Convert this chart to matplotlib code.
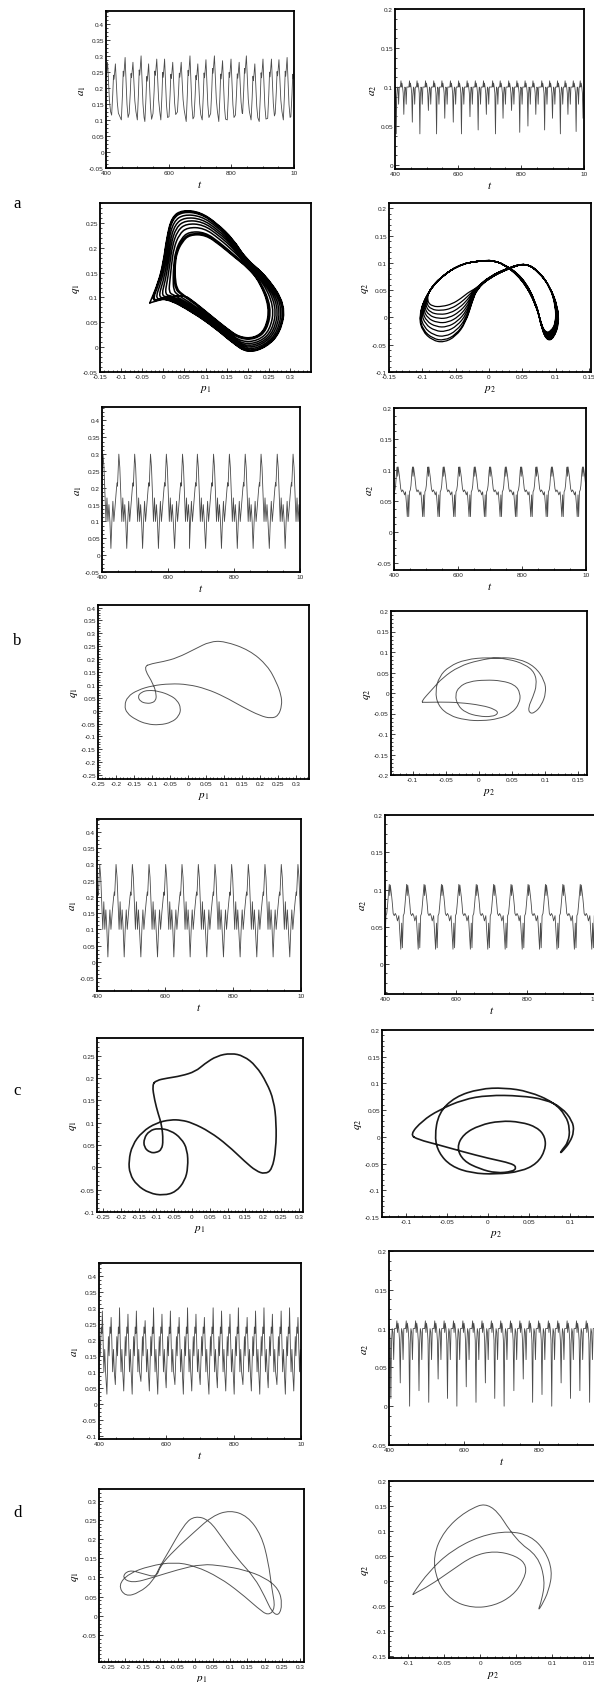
import numpy as np
import matplotlib
matplotlib.use('Agg')
import matplotlib.pyplot as plt
from matplotlib.ticker import AutoMinorLocator, FixedLocator, FuncFormatter
from matplotlib.path import Path
from matplotlib.patches import PathPatch

plt.rcParams['axes.unicode_minus'] = False
plt.rcParams['mathtext.fontset'] = 'stix'
plt.rcParams['font.family'] = ['Liberation Sans', 'DejaVu Sans']

W, H = 594, 1683
fig = plt.figure(figsize=(W / 100, H / 100), dpi=100)

# ---------------- data ----------------
# Row a (chaotic)
A1_PEAK_T = [405, 430, 461, 486, 512, 536, 562, 587, 613, 640, 668, 693, 719, 746, 772, 799, 825, 848, 875, 901, 928, 952, 978, 1002]
A1_PEAK = [0.28, 0.275, 0.295, 0.28, 0.30, 0.275, 0.29, 0.29, 0.28, 0.28, 0.30, 0.275, 0.288, 0.30, 0.285, 0.29, 0.28, 0.30, 0.275, 0.29, 0.29, 0.288, 0.295, 0.28]
A1_TROUGH = [0.12, 0.115, 0.10, 0.12, 0.10, 0.095, 0.12, 0.10, 0.11, 0.125, 0.095, 0.11, 0.10, 0.12, 0.095, 0.10, 0.115, 0.12, 0.10, 0.095, 0.105, 0.12, 0.10, 0.11]
A1_SHAPE_DT = [-12, -8.5, -6, -4.5, -2.5, 0, 2.5, 6, 9.5]
A1_SHAPE_F = [0.0, 0.4, 0.78, 0.7, 0.82, 1.0, 0.7, 0.25, 0.04]

A2_SPIKE_T = [404, 428, 455, 479, 506, 532, 558, 585, 611, 638, 664, 690, 719, 743, 770, 796, 822, 847, 875, 900, 925, 949, 975, 997]
A2_SPIKE = [0.04, 0.065, 0.055, 0.04, 0.07, 0.04, 0.06, 0.055, 0.04, 0.062, 0.045, 0.065, 0.04, 0.06, 0.07, 0.042, 0.05, 0.065, 0.045, 0.06, 0.04, 0.065, 0.043, 0.06]
A2_SHAPE_DT = [-11, -9, -7.5, -6, -4, -2, 0, 1.5, 3.5, 5.5, 7.5, 9.5]
A2_SHAPE_V = [0.1, 0.108, 0.1, 0.105, 0.1, 0.092, None, 0.088, 0.1, 0.098, 0.078, 0.1]

A_PH1_OUTER_P = [-0.032, -0.012, 0.0, 0.008, 0.02, 0.045, 0.087, 0.126, 0.166, 0.195, 0.245, 0.29, 0.278, 0.245, 0.2, 0.165, 0.125, 0.07, 0.005]
A_PH1_OUTER_Q = [0.089, 0.13, 0.17, 0.22, 0.262, 0.276, 0.272, 0.25, 0.217, 0.178, 0.143, 0.085, 0.03, 0.0, -0.012, 0.008, 0.037, 0.07, 0.1]
A_PH1_INNER_P = [0.032, 0.028, 0.028, 0.032, 0.045, 0.062, 0.1, 0.135, 0.17, 0.2, 0.228, 0.252, 0.242, 0.215, 0.18, 0.15, 0.115, 0.075, 0.045]
A_PH1_INNER_Q = [0.118, 0.14, 0.165, 0.19, 0.212, 0.226, 0.226, 0.205, 0.18, 0.16, 0.132, 0.08, 0.035, 0.018, 0.02, 0.038, 0.062, 0.09, 0.108]
A_PH1_MIX = [0.0, 0.03, 0.07, 0.18, 0.3, 0.42, 0.55, 0.7, 0.88, 0.95, 1.0]

A_PH2_OUTER_P = [0.0, -0.04, -0.075, -0.097, -0.105, -0.1, -0.085, -0.068, -0.05, -0.035, -0.025, -0.018, 0.0, 0.03, 0.055, 0.075, 0.092, 0.103, 0.105, 0.097, 0.088, 0.08, 0.072, 0.05, 0.02]
A_PH2_OUTER_Q = [0.105, 0.1, 0.072, 0.035, 0.0, -0.025, -0.042, -0.046, -0.035, -0.01, 0.03, 0.052, 0.072, 0.09, 0.1, 0.083, 0.055, 0.02, -0.012, -0.038, -0.043, -0.025, 0.02, 0.07, 0.1]
A_PH2_INNER_P = [0.0, -0.04, -0.072, -0.09, -0.093, -0.085, -0.07, -0.055, -0.042, -0.032, -0.025, -0.018, 0.0, 0.03, 0.055, 0.075, 0.092, 0.1, 0.1, 0.093, 0.085, 0.078, 0.07, 0.05, 0.02]
A_PH2_INNER_Q = [0.105, 0.1, 0.075, 0.05, 0.03, 0.02, 0.02, 0.025, 0.035, 0.045, 0.05, 0.055, 0.075, 0.092, 0.1, 0.085, 0.055, 0.02, -0.01, -0.025, -0.028, -0.012, 0.03, 0.075, 0.1]
A_PH2_MIX = [0.0, 0.05, 0.15, 0.28, 0.4, 0.52, 0.64, 0.76, 0.88, 1.0]

# Row b (periodic)
B1_PEAK_T = [403, 451, 499, 547, 595, 644, 689, 738, 786, 834, 882, 931, 979, 1027]
B1_SHAPE_DT = [-24, -21, -18, -15, -11, -7, -5, -4, -2, 0, 3, 6, 9, 12, 15, 18, 21]
B1_SHAPE_V = [0.02, 0.10, 0.16, 0.10, 0.15, 0.20, 0.215, 0.205, 0.25, 0.30, 0.26, 0.18, 0.10, 0.17, 0.10, 0.15, 0.10]

B2_PEAK_T = [412, 460, 508, 556, 605, 653, 701, 750, 798, 846, 894, 943, 991, 1039]
B2_SHAPE_DT = [-24, -21, -18.5, -16, -14, -11.5, -9, -7, -5, -3.5, -2, -0.5, 1, 3, 5, 7, 9, 12, 15, 18, 21]
B2_SHAPE_V = [0.065, 0.045, 0.025, 0.06, 0.025, 0.065, 0.068, 0.075, 0.088, 0.1, 0.105, 0.09, 0.105, 0.098, 0.09, 0.08, 0.07, 0.065, 0.068, 0.065, 0.06]

B_PH1_P = [-0.125, -0.095, -0.088, -0.09, -0.1, -0.115, -0.132, -0.14, -0.13, -0.11, -0.08, -0.05, -0.03, -0.02, -0.025, -0.045, -0.08, -0.115, -0.145, -0.17, -0.177, -0.168, -0.14, -0.1, -0.05, 0.0, 0.05, 0.1, 0.15, 0.2, 0.23, 0.25, 0.26, 0.258, 0.245, 0.22, 0.17, 0.1, 0.06, 0.02, -0.03, -0.07, -0.1, -0.125]
B_PH1_Q = [0.17, 0.1, 0.06, 0.04, 0.03, 0.028, 0.035, 0.055, 0.072, 0.08, 0.075, 0.06, 0.04, 0.01, -0.02, -0.045, -0.056, -0.052, -0.035, -0.01, 0.02, 0.055, 0.08, 0.097, 0.105, 0.102, 0.085, 0.055, 0.015, -0.02, -0.03, -0.02, 0.02, 0.06, 0.11, 0.175, 0.235, 0.27, 0.268, 0.24, 0.205, 0.19, 0.183, 0.17]

B_PH2_P = [-0.088, -0.07, -0.055, -0.03, 0.0, 0.03, 0.06, 0.085, 0.1, 0.102, 0.095, 0.085, 0.077, 0.075, 0.082, 0.088, 0.085, 0.07, 0.045, 0.015, -0.02, -0.045, -0.06, -0.066, -0.062, -0.045, -0.02, 0.005, 0.03, 0.05, 0.062, 0.063, 0.055, 0.035, 0.01, -0.015, -0.03, -0.036, -0.032, -0.02, 0.0, 0.02, 0.03, 0.025, 0.005, -0.03, -0.06, -0.082, -0.088]
B_PH2_Q = [-0.022, 0.01, 0.037, 0.065, 0.08, 0.087, 0.084, 0.065, 0.03, 0.0, -0.03, -0.048, -0.05, -0.035, -0.01, 0.02, 0.05, 0.07, 0.083, 0.087, 0.082, 0.065, 0.04, 0.005, -0.03, -0.055, -0.066, -0.068, -0.063, -0.05, -0.025, 0.0, 0.02, 0.03, 0.032, 0.028, 0.015, -0.005, -0.03, -0.048, -0.057, -0.058, -0.05, -0.04, -0.03, -0.023, -0.022, -0.023, -0.022]

# Row c (periodic, slightly thickened orbit)
C1_PEAK_T = [408, 456, 504, 553, 602, 650, 698, 747, 796, 845, 894, 942, 991, 1040]
C1_SHAPE_DT = [-24, -21, -18, -15, -11, -7, -5, -4, -2, 0, 3, 6, 9, 12, 15, 18, 21]
C1_SHAPE_V = [0.015, 0.10, 0.16, 0.10, 0.155, 0.20, 0.215, 0.205, 0.25, 0.30, 0.26, 0.18, 0.10, 0.185, 0.10, 0.16, 0.10]

C2_PEAK_T = [414, 463, 512, 561, 610, 659, 708, 757, 805, 854, 903, 952, 1001, 1050]
C2_SHAPE_DT = [-24, -21, -18.5, -16, -14, -11.5, -9, -7, -5, -3.5, -2, -0.5, 1, 3, 5, 7, 9, 12, 15, 18, 21]
C2_SHAPE_V = [0.065, 0.04, 0.02, 0.055, 0.022, 0.065, 0.068, 0.078, 0.09, 0.1, 0.107, 0.092, 0.106, 0.098, 0.09, 0.08, 0.068, 0.065, 0.068, 0.065, 0.058]

C_PH1_P = [-0.112, -0.105, -0.095, -0.085, -0.081, -0.085, -0.1, -0.118, -0.135, -0.135, -0.12, -0.095, -0.06, -0.03, -0.013, -0.011, -0.02, -0.045, -0.08, -0.12, -0.155, -0.175, -0.178, -0.168, -0.14, -0.1, -0.06, -0.03, 0.0, 0.05, 0.1, 0.15, 0.18, 0.205, 0.225, 0.236, 0.237, 0.23, 0.21, 0.18, 0.145, 0.11, 0.07, 0.035, 0.01, -0.03, -0.07, -0.1, -0.112]
C_PH1_Q = [0.185, 0.15, 0.12, 0.095, 0.06, 0.04, 0.033, 0.033, 0.045, 0.065, 0.082, 0.088, 0.083, 0.065, 0.04, 0.0, -0.03, -0.055, -0.063, -0.058, -0.04, -0.015, 0.015, 0.05, 0.08, 0.1, 0.107, 0.106, 0.1, 0.08, 0.05, 0.012, -0.008, -0.015, -0.005, 0.04, 0.1, 0.15, 0.19, 0.228, 0.25, 0.256, 0.25, 0.232, 0.215, 0.205, 0.2, 0.195, 0.185]

C_PH2_P = [-0.095, -0.08, -0.06, -0.03, 0.0, 0.04, 0.07, 0.09, 0.103, 0.105, 0.1, 0.092, 0.088, 0.09, 0.098, 0.1, 0.095, 0.08, 0.05, 0.02, -0.01, -0.04, -0.06, -0.065, -0.06, -0.045, -0.02, 0.01, 0.04, 0.06, 0.07, 0.07, 0.06, 0.04, 0.015, -0.01, -0.03, -0.038, -0.03, -0.01, 0.01, 0.03, 0.035, 0.03, 0.0, -0.03, -0.06, -0.085, -0.095]
C_PH2_Q = [0.004, 0.03, 0.05, 0.07, 0.078, 0.077, 0.07, 0.055, 0.03, 0.01, -0.01, -0.025, -0.031, -0.025, -0.01, 0.015, 0.04, 0.065, 0.085, 0.092, 0.09, 0.075, 0.045, 0.0, -0.03, -0.055, -0.068, -0.07, -0.065, -0.05, -0.025, 0.0, 0.018, 0.028, 0.03, 0.022, 0.005, -0.02, -0.045, -0.06, -0.068, -0.065, -0.058, -0.05, -0.04, -0.028, -0.015, -0.005, 0.004]

# Row d (quasi-periodic)
D1_PEAK_T = [410, 436, 461, 486, 511, 537, 562, 587, 612, 638, 663, 688, 713, 739, 764, 789, 814, 840, 865, 890, 915, 941, 966, 991, 1016]
D1_PEAK = [0.29, 0.27, 0.30, 0.28, 0.29, 0.26, 0.30, 0.28, 0.29, 0.27, 0.30, 0.28, 0.27, 0.30, 0.29, 0.28, 0.30, 0.27, 0.29, 0.30, 0.28, 0.29, 0.30, 0.27, 0.28]
D1_LOW = [0.05, 0.03, 0.06, 0.04, 0.03, 0.07, 0.04, 0.03, 0.05, 0.06, 0.03, 0.04, 0.06, 0.03, 0.05, 0.04, 0.03, 0.06, 0.04, 0.03, 0.05, 0.06, 0.03, 0.04, 0.05]
D1_SHAPE_DT = [-12.5, -10, -8, -6, -3.5, -1.5, 0, 2, 4.5, 7, 9.5]
D1_SHAPE_V = ['L', 0.14, 0.21, 0.15, 0.24, 0.22, 'P', 0.2, 0.1, 0.17, 0.1]

D2_SPIKE_T = [405, 430, 455, 480, 506, 531, 556, 581, 606, 632, 657, 682, 707, 733, 758, 783, 808, 834, 859, 884, 909, 935, 960, 985, 1010]
D2_SPIKE = [0.01, 0.03, 0.0, 0.02, 0.005, 0.035, 0.01, 0.0, 0.025, 0.005, 0.03, 0.01, 0.0, 0.02, 0.035, 0.005, 0.015, 0.0, 0.03, 0.01, 0.02, 0.005, 0.03, 0.01, 0.02]
D2_SHAPE_DT = [-11, -9, -7.5, -6, -4, -2, 0, 1.5, 3.5, 5.5, 7.5, 9.5]
D2_SHAPE_V = [0.1, 0.11, 0.095, 0.107, 0.1, 0.085, None, 0.08, 0.1, 0.095, 0.06, 0.1]

D_PH1_P = [-0.1, -0.06, 0.0, 0.05, 0.1, 0.15, 0.19, 0.21, 0.22, 0.23, 0.21, 0.18, 0.13, 0.07, 0.0, -0.06, -0.13, -0.19, -0.22, -0.2, -0.16, -0.12, -0.1, -0.08, -0.03, 0.0, 0.04, 0.08, 0.12, 0.17, 0.2, 0.22, 0.24, 0.25, 0.24, 0.2, 0.14, 0.08, 0.02, -0.05, -0.12, -0.18, -0.21, -0.19, -0.15, -0.11, -0.1]
D_PH1_Q = [0.13, 0.17, 0.22, 0.26, 0.275, 0.26, 0.21, 0.14, 0.07, 0.02, 0.0, 0.02, 0.06, 0.1, 0.13, 0.14, 0.13, 0.11, 0.08, 0.05, 0.06, 0.09, 0.13, 0.16, 0.24, 0.26, 0.25, 0.2, 0.15, 0.1, 0.05, 0.01, 0.0, 0.03, 0.07, 0.1, 0.12, 0.13, 0.135, 0.12, 0.1, 0.085, 0.1, 0.12, 0.11, 0.1, 0.13]

D_PH2_P = [-0.095, -0.07, -0.04, 0.0, 0.04, 0.07, 0.09, 0.1, 0.095, 0.085, 0.08, 0.085, 0.09, 0.08, 0.05, 0.015, -0.02, -0.05, -0.065, -0.06, -0.04, -0.01, 0.02, 0.045, 0.06, 0.065, 0.05, 0.02, -0.01, -0.04, -0.07, -0.09, -0.095]
D_PH2_Q = [-0.03, 0.02, 0.06, 0.09, 0.1, 0.09, 0.06, 0.02, -0.02, -0.05, -0.06, -0.04, 0.0, 0.05, 0.08, 0.16, 0.14, 0.1, 0.05, 0.0, -0.04, -0.055, -0.05, -0.03, 0.0, 0.03, 0.05, 0.06, 0.05, 0.02, -0.01, -0.025, -0.03]

# ---------------- helpers ----------------
def rect(x0, y0, x1, y1):
    return [x0 / W, 1 - y1 / H, (x1 - x0) / W, (y1 - y0) / H]


def fmt(v, pos):
    s = ('%.2f' % v).rstrip('0').rstrip('.')
    return '0' if s in ('-0', '0') else s


def setup(ax, xlim, ylim, xt, yt, xlab, ylab, xtl=None, nmin=5):
    ax.set_xlim(xlim)
    ax.set_ylim(ylim)
    ax.xaxis.set_major_locator(FixedLocator(xt))
    ax.yaxis.set_major_locator(FixedLocator(yt))
    ax.xaxis.set_minor_locator(AutoMinorLocator(nmin))
    ax.yaxis.set_minor_locator(AutoMinorLocator(nmin))
    if xtl is not None:
        ax.set_xticklabels(xtl)
    else:
        ax.xaxis.set_major_formatter(FuncFormatter(fmt))
    ax.yaxis.set_major_formatter(FuncFormatter(fmt))
    ax.tick_params(which='major', direction='in', length=3, width=0.6,
                   labelsize=4.6, pad=1.5, colors='#222222')
    ax.tick_params(which='minor', direction='in', length=1.5, width=0.5)
    for s in ax.spines.values():
        s.set_linewidth(1.3)
    ax.set_xlabel(xlab, fontsize=8, labelpad=2)
    ax.set_ylabel(ylab, fontsize=8, labelpad=1)


def series_frac(peak_t, lo, hi, dts, fr):
    t, y = [], []
    for i, tp in enumerate(peak_t):
        for dt, f in zip(dts, fr):
            t.append(tp + dt)
            y.append(lo[i] + f * (hi[i] - lo[i]))
    return t, y


def series_spike(spike_t, spike_v, dts, vals):
    t, y = [], []
    for i, tp in enumerate(spike_t):
        for dt, v in zip(dts, vals):
            t.append(tp + dt)
            y.append(spike_v[i] if v is None else v)
    return t, y


def series_periodic(peak_t, dts, vals):
    t, y = [], []
    for tp in peak_t:
        for dt, v in zip(dts, vals):
            t.append(tp + dt)
            y.append(v)
    return t, y


def series_lp(peak_t, lows, peaks, dts, vals):
    t, y = [], []
    for i, tp in enumerate(peak_t):
        for dt, v in zip(dts, vals):
            t.append(tp + dt)
            y.append(lows[i] if v == 'L' else (peaks[i] if v == 'P' else v))
    return t, y


def mixed_loops(op, oq, ip, iq, mix):
    op, oq, ip, iq = map(np.asarray, (op, oq, ip, iq))
    P, Q = [], []
    for w in mix:
        P.extend(list((1 - w) * op + w * ip))
        Q.extend(list((1 - w) * oq + w * iq))
    P.append(P[0])
    Q.append(Q[0])
    return P, Q


def smooth_curve(ax, P, Q, closed=True, **kw):
    """Draw the traced points as a smooth quadratic B-spline path."""
    pts = np.column_stack([P, Q]).astype(float)
    if closed:
        if np.allclose(pts[0], pts[-1]):
            pts = pts[:-1]
        mids = (pts + np.roll(pts, -1, axis=0)) / 2
        verts = [mids[-1]]
        codes = [Path.MOVETO]
        for i in range(len(pts)):
            verts += [pts[i], mids[i]]
            codes += [Path.CURVE3, Path.CURVE3]
    else:
        mids = (pts[:-1] + pts[1:]) / 2
        verts = [pts[0], mids[0]]
        codes = [Path.MOVETO, Path.LINETO]
        for i in range(1, len(pts) - 1):
            verts += [pts[i], mids[i]]
            codes += [Path.CURVE3, Path.CURVE3]
        verts.append(pts[-1])
        codes.append(Path.LINETO)
    ax.add_patch(PathPatch(Path(verts, codes), fill=False, capstyle='round',
                           joinstyle='round', **kw))


TS_COL = '#4a4a4a'
T_TICKS = [400, 600, 800, 1000]
T_LAB_CUT = ['400', '600', '800', '10']
LAB_A1 = r'$a_{1}$'
LAB_A2 = r'$a_{2}$'
LAB_T = r'$t$'

# ---------------- row a ----------------
ax = fig.add_axes(rect(106, 12, 294, 169))
t, y = series_frac(A1_PEAK_T, A1_TROUGH, A1_PEAK, A1_SHAPE_DT, A1_SHAPE_F)
ax.plot(t, y, color=TS_COL, lw=0.6)
setup(ax, (400, 1000), (-0.05, 0.44), T_TICKS, np.arange(-0.05, 0.401, 0.05), LAB_T, LAB_A1, T_LAB_CUT, 4)

ax = fig.add_axes(rect(395, 10, 584, 170))
t, y = series_spike(A2_SPIKE_T, A2_SPIKE, A2_SHAPE_DT, A2_SHAPE_V)
ax.plot(t, y, color=TS_COL, lw=0.6)
setup(ax, (400, 1000), (-0.005, 0.2), T_TICKS, np.arange(0, 0.201, 0.05), LAB_T, LAB_A2, T_LAB_CUT, 4)

ax = fig.add_axes(rect(100, 204, 311, 373))
P, Q = mixed_loops(A_PH1_OUTER_P, A_PH1_OUTER_Q, A_PH1_INNER_P, A_PH1_INNER_Q, A_PH1_MIX)
smooth_curve(ax, P, Q, closed=False, edgecolor='black', lw=1.1)
setup(ax, (-0.15, 0.35), (-0.05, 0.29), np.arange(-0.15, 0.301, 0.05), np.arange(-0.05, 0.251, 0.05), r'$p_{1}$', r'$q_{1}$')

ax = fig.add_axes(rect(389, 204, 591, 373))
P, Q = mixed_loops(A_PH2_OUTER_P, A_PH2_OUTER_Q, A_PH2_INNER_P, A_PH2_INNER_Q, A_PH2_MIX)
smooth_curve(ax, P, Q, closed=False, edgecolor='black', lw=0.9)
setup(ax, (-0.15, 0.153), (-0.1, 0.21), np.arange(-0.15, 0.151, 0.05), np.arange(-0.1, 0.201, 0.05), r'$p_{2}$', r'$q_{2}$')

# ---------------- row b ----------------
ax = fig.add_axes(rect(102, 408, 300, 573))
t, y = series_periodic(B1_PEAK_T, B1_SHAPE_DT, B1_SHAPE_V)
ax.plot(t, y, color=TS_COL, lw=0.6)
setup(ax, (400, 1000), (-0.05, 0.44), T_TICKS, np.arange(-0.05, 0.401, 0.05), LAB_T, LAB_A1, T_LAB_CUT, 4)

ax = fig.add_axes(rect(394, 409, 586, 571))
t, y = series_periodic(B2_PEAK_T, B2_SHAPE_DT, B2_SHAPE_V)
ax.plot(t, y, color=TS_COL, lw=0.6)
setup(ax, (400, 1000), (-0.061, 0.2), T_TICKS, np.arange(-0.05, 0.201, 0.05), LAB_T, LAB_A2, T_LAB_CUT, 4)

ax = fig.add_axes(rect(98, 606, 309, 780))
smooth_curve(ax, B_PH1_P, B_PH1_Q, edgecolor='#555555', lw=0.7)
setup(ax, (-0.25, 0.335), (-0.265, 0.41), np.arange(-0.25, 0.301, 0.05), np.arange(-0.25, 0.401, 0.05), r'$p_{1}$', r'$q_{1}$')

ax = fig.add_axes(rect(391, 612, 587, 776))
smooth_curve(ax, B_PH2_P, B_PH2_Q, edgecolor='#555555', lw=0.7)
setup(ax, (-0.133, 0.164), (-0.2, 0.2), np.arange(-0.1, 0.151, 0.05), np.arange(-0.2, 0.201, 0.05), r'$p_{2}$', r'$q_{2}$')

# ---------------- row c ----------------
ax = fig.add_axes(rect(97, 820, 301, 992))
t, y = series_periodic(C1_PEAK_T, C1_SHAPE_DT, C1_SHAPE_V)
ax.plot(t, y, color=TS_COL, lw=0.6)
setup(ax, (400, 1000), (-0.09, 0.44), T_TICKS, np.arange(-0.05, 0.401, 0.05), LAB_T, LAB_A1, T_LAB_CUT, 4)

ax = fig.add_axes(rect(385, 816, 598, 995))
t, y = series_periodic(C2_PEAK_T, C2_SHAPE_DT, C2_SHAPE_V)
ax.plot(t, y, color=TS_COL, lw=0.6)
setup(ax, (400, 1000), (-0.04, 0.2), T_TICKS, np.arange(0, 0.201, 0.05), LAB_T, LAB_A2, None, 4)

ax = fig.add_axes(rect(97, 1039, 303, 1213))
smooth_curve(ax, C_PH1_P, C_PH1_Q, edgecolor='#1a1a1a', lw=1.2)
setup(ax, (-0.267, 0.312), (-0.1, 0.29), np.arange(-0.25, 0.301, 0.05), np.arange(-0.1, 0.251, 0.05), r'$p_{1}$', r'$q_{1}$')

ax = fig.add_axes(rect(382, 1031, 611, 1218))
smooth_curve(ax, C_PH2_P, C_PH2_Q, edgecolor='#1a1a1a', lw=1.2)
setup(ax, (-0.129, 0.15), (-0.15, 0.2), np.arange(-0.1, 0.101, 0.05), np.arange(-0.15, 0.201, 0.05), r'$p_{2}$', r'$q_{2}$')

# ---------------- row d ----------------
ax = fig.add_axes(rect(99, 1264, 301, 1440))
t, y = series_lp(D1_PEAK_T, D1_LOW, D1_PEAK, D1_SHAPE_DT, D1_SHAPE_V)
ax.plot(t, y, color=TS_COL, lw=0.6)
setup(ax, (400, 1000), (-0.11, 0.44), T_TICKS, np.arange(-0.1, 0.401, 0.05), LAB_T, LAB_A1, T_LAB_CUT, 4)

ax = fig.add_axes(rect(389, 1252, 614, 1446))
t, y = series_spike(D2_SPIKE_T, D2_SPIKE, D2_SHAPE_DT, D2_SHAPE_V)
ax.plot(t, y, color=TS_COL, lw=0.6)
setup(ax, (400, 1000), (-0.05, 0.2), T_TICKS, np.arange(-0.05, 0.201, 0.05), LAB_T, LAB_A2, None, 4)

ax = fig.add_axes(rect(99, 1490, 304, 1663))
smooth_curve(ax, D_PH1_P, D_PH1_Q, edgecolor='#555555', lw=0.7)
setup(ax, (-0.275, 0.312), (-0.12, 0.33), np.arange(-0.25, 0.301, 0.05), np.arange(-0.05, 0.301, 0.05), r'$p_{1}$', r'$q_{1}$')

ax = fig.add_axes(rect(389, 1482, 598, 1659))
smooth_curve(ax, D_PH2_P, D_PH2_Q, edgecolor='#555555', lw=0.7)
setup(ax, (-0.126, 0.163), (-0.155, 0.2), np.arange(-0.1, 0.151, 0.05), np.arange(-0.15, 0.201, 0.05), r'$p_{2}$', r'$q_{2}$')

# ---------------- row letters ----------------
for letter, yy in zip(['a', 'b', 'c', 'd'], [204, 641, 1091, 1513]):
    fig.text(13 / W, 1 - yy / H, letter, fontsize=12, family='Liberation Serif',
             ha='left', va='center')

fig.savefig('out.png', dpi=100)
